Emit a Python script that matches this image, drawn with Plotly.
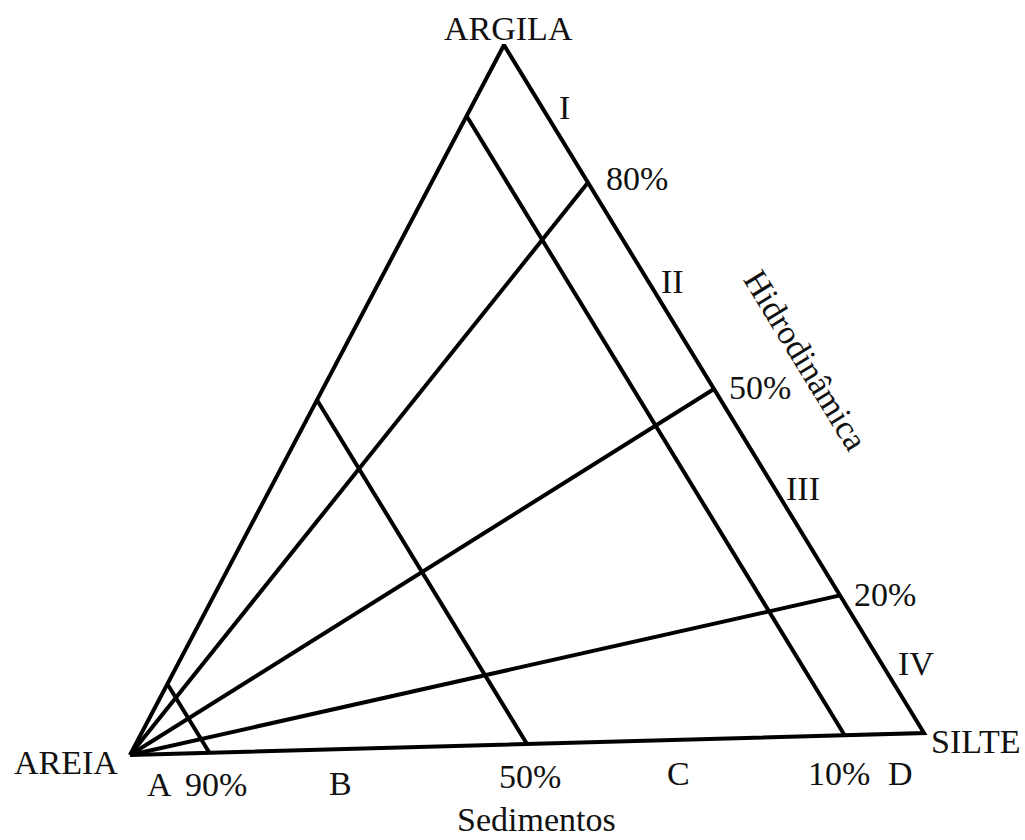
import plotly.graph_objects as go
import numpy as np

# --- data (Pejrup diagram) ---
sand_lines = [90, 50, 10]            # % sand (Sedimentos)
clay_ratio_lines = [80, 50, 20]      # % clay in fines (Hidrodinâmica)
vertex_labels = ["AREIA", "ARGILA", "SILTE"]
sand_tick_labels = ["90%", "50%", "10%"]
sand_class_labels = ["A", "B", "C", "D"]
ratio_tick_labels = ["80%", "50%", "20%"]
ratio_class_labels = ["I", "II", "III", "IV"]

# --- layout geometry (page pixels) ---
V_SAND = np.array([130.0, 755.0])
V_CLAY = np.array([504.0, 45.0])
V_SILT = np.array([924.0, 733.0])

def pt(sand, clay, silt):
    t = sand + clay + silt
    return (sand * V_SAND + clay * V_CLAY + silt * V_SILT) / t

LW = 4
fig = go.Figure()

def add_line(p, q):
    fig.add_trace(go.Scatter(x=[p[0], q[0]], y=[p[1], q[1]], mode="lines",
                             line=dict(color="black", width=LW), hoverinfo="skip",
                             showlegend=False))

# triangle
fig.add_trace(go.Scatter(x=[V_SAND[0], V_CLAY[0], V_SILT[0], V_SAND[0]],
                         y=[V_SAND[1], V_CLAY[1], V_SILT[1], V_SAND[1]],
                         mode="lines", line=dict(color="black", width=LW),
                         hoverinfo="skip", showlegend=False))

# constant sand lines
for s in sand_lines:
    add_line(pt(s, 100 - s, 0), pt(s, 0, 100 - s))

# radial lines from sand vertex (constant clay/(clay+silt))
for r in clay_ratio_lines:
    add_line(pt(100, 0, 0), pt(0, r, 100 - r))

FONT = dict(family="Liberation Serif, Times New Roman, serif", size=34, color="#111")

def ann(text, x, y, angle=0):
    fig.add_annotation(x=x, y=y, xref="x", yref="y", text=text, showarrow=False,
                       font=FONT, xanchor="center", yanchor="middle", textangle=angle)

ann(vertex_labels[0], 66, 762)
ann(vertex_labels[1], 508, 28)
ann(vertex_labels[2], 975, 741)

for lab, (x, y) in zip(sand_tick_labels, [(216, 784), (530, 776), (839, 773)]):
    ann(lab, x, y)
for lab, (x, y) in zip(sand_class_labels, [(159, 784), (340, 783), (678, 773), (900, 773)]):
    ann(lab, x, y)
ann("Sedimentos", 536, 819)

for lab, (x, y) in zip(ratio_tick_labels, [(637, 178), (760, 387), (885, 594)]):
    ann(lab, x, y)
for lab, (x, y) in zip(ratio_class_labels, [(564, 107), (672, 281), (803, 488), (916, 663)]):
    ann(lab, x, y)
ann("Hidrodinâmica", 806, 360, angle=58.5)

fig.update_layout(width=1025, height=840, margin=dict(l=0, r=0, t=0, b=0),
                  paper_bgcolor="white", plot_bgcolor="white",
                  xaxis=dict(range=[0, 1025], visible=False, fixedrange=True),
                  yaxis=dict(range=[840, 0], visible=False, fixedrange=True))

fig.write_html("out.html", config={"displayModeBar": False},
               post_script="document.body.style.margin='0';document.body.style.overflow='hidden';")
